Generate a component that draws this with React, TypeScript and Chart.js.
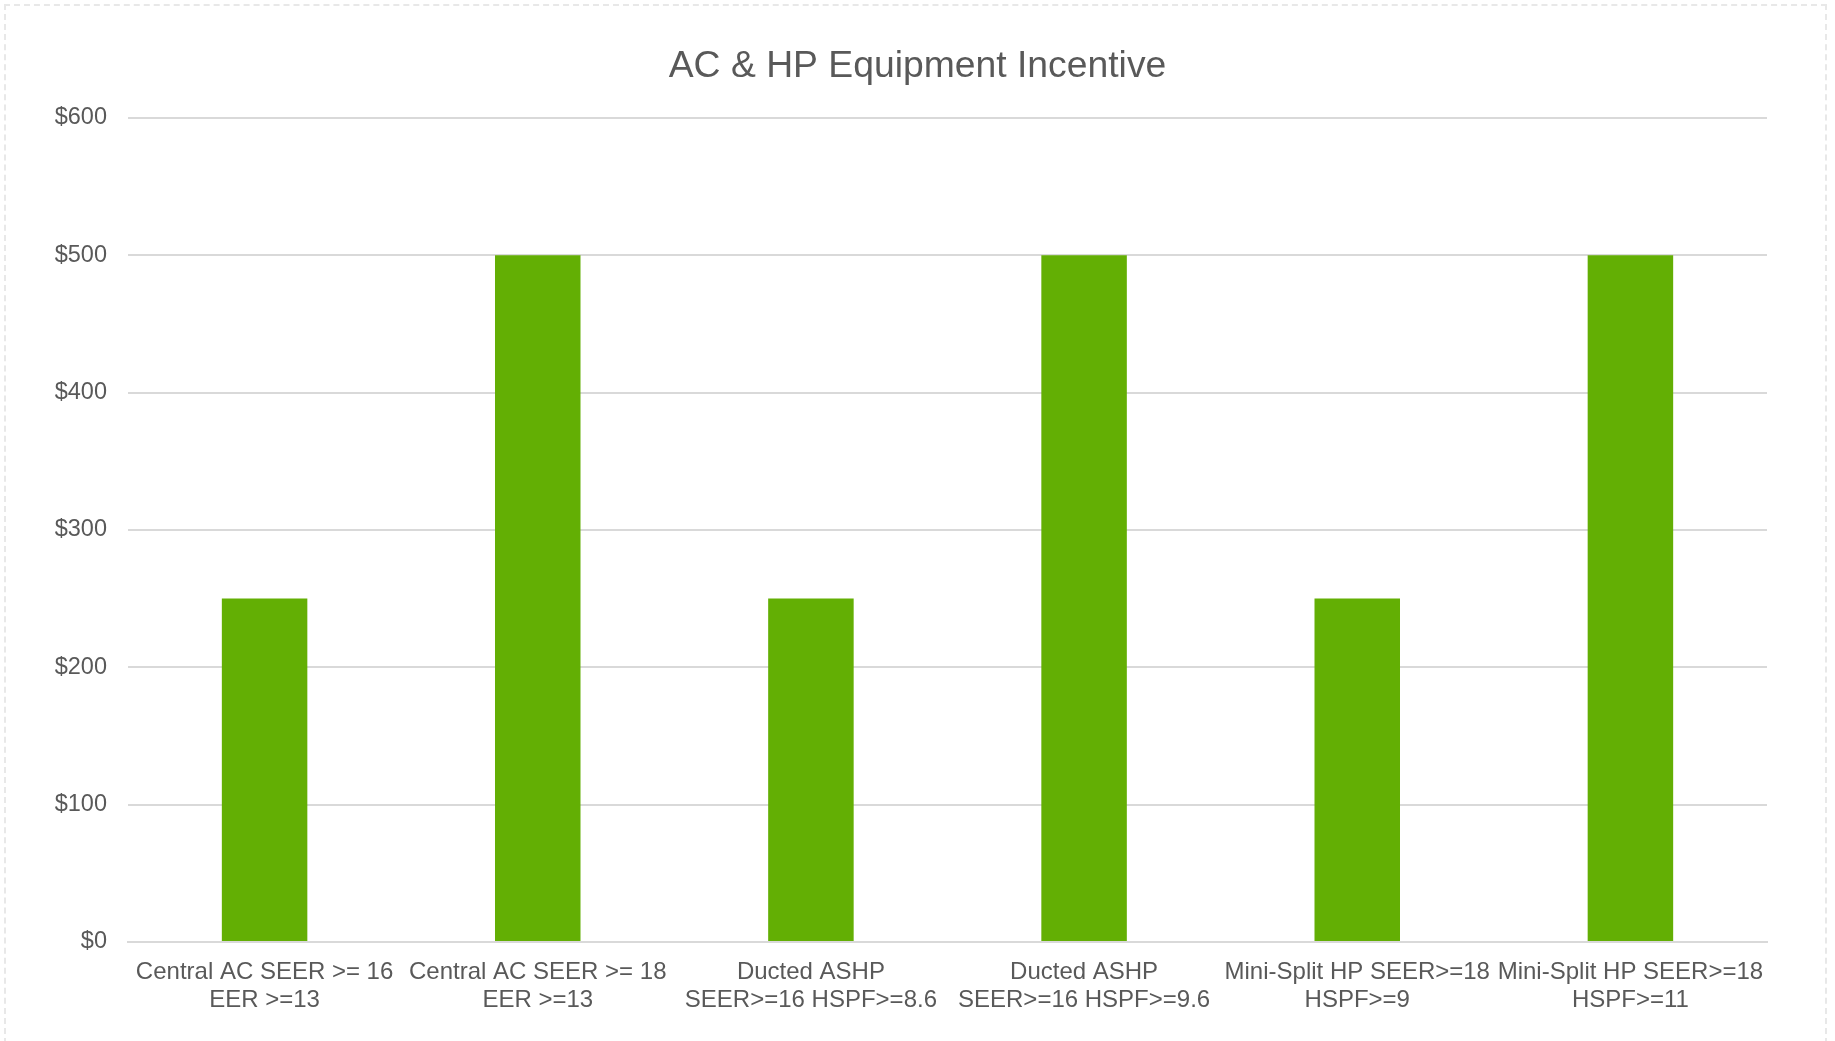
import React, { useEffect, useRef } from "react";
import { Chart, registerables } from "chart.js";

Chart.register(...registerables);

const categories: string[][] = [
  ["Central AC SEER >= 16", "EER >=13"],
  ["Central AC SEER >= 18", "EER >=13"],
  ["Ducted ASHP", "SEER>=16 HSPF>=8.6"],
  ["Ducted ASHP", "SEER>=16 HSPF>=9.6"],
  ["Mini-Split HP SEER>=18", "HSPF>=9"],
  ["Mini-Split HP SEER>=18", "HSPF>=11"],
];
const incentives: number[] = [250, 500, 250, 500, 250, 500];
const yTicks: number[] = [0, 100, 200, 300, 400, 500, 600];
const title = "AC & HP Equipment Incentive";

const FONT = "'Liberation Sans', Arial, sans-serif";

export default function App() {
  const ref = useRef<HTMLCanvasElement | null>(null);
  useEffect(() => {
    document.body.style.margin = "0";
    const ctx = ref.current!.getContext("2d")!;
    const chart = new Chart(ctx, {
      type: "bar",
      data: {
        labels: categories,
        datasets: [
          {
            data: incentives,
            backgroundColor: "#63AF04",
            barPercentage: 0.313,
            categoryPercentage: 1,
          },
        ],
      },
      options: {
        animation: false,
        responsive: false,
        devicePixelRatio: 1,
        layout: { padding: 0 },
        plugins: {
          legend: { display: false },
          tooltip: { enabled: false },
          title: {
            display: true,
            text: title,
            color: "#595959",
            font: { family: FONT, size: 37.3, weight: "normal" },
            padding: { top: 44, bottom: 29 },
          },
        },
        scales: {
          x: {
            grid: { display: false, drawTicks: false },
            border: { display: true, color: "#d9d9d9", width: 2 },
            ticks: {
              color: "#595959",
              font: { family: FONT, size: 24, lineHeight: 28 / 24 },
              maxRotation: 0,
              minRotation: 0,
              autoSkip: false,
              padding: 16,
            },
            afterFit: (s: any) => {
              s.height = 99;
            },
          },
          y: {
            min: 0,
            max: 600,
            afterBuildTicks: (s: any) => {
              s.ticks = yTicks.map((v) => ({ value: v }));
            },
            grid: { color: "#d9d9d9", lineWidth: 2, drawTicks: false },
            border: { display: false },
            ticks: {
              color: "#595959",
              font: { family: FONT, size: 23.5 },
              padding: 21,
              callback: (v: any) => "$" + v,
            },
            afterFit: (s: any) => {
              s.width = 128;
            },
          },
          yRight: {
            position: "right",
            display: true,
            grid: { display: false, drawTicks: false },
            border: { display: false },
            ticks: { display: false },
            afterFit: (s: any) => {
              s.width = 68;
            },
          },
        },
      },
    });
    return () => chart.destroy();
  }, []);
  return (
    <div style={{ position: "relative", width: 1835, height: 1041, background: "#fff" }}>
      <div
        style={{
          position: "absolute",
          left: 4,
          top: 4,
          width: 1823,
          height: 1040,
          border: "2px dashed #e8e8e8",
          boxSizing: "border-box",
        }}
      />
      <canvas ref={ref} width={1835} height={1041} style={{ position: "absolute", left: 0, top: 0 }} />
    </div>
  );
}
